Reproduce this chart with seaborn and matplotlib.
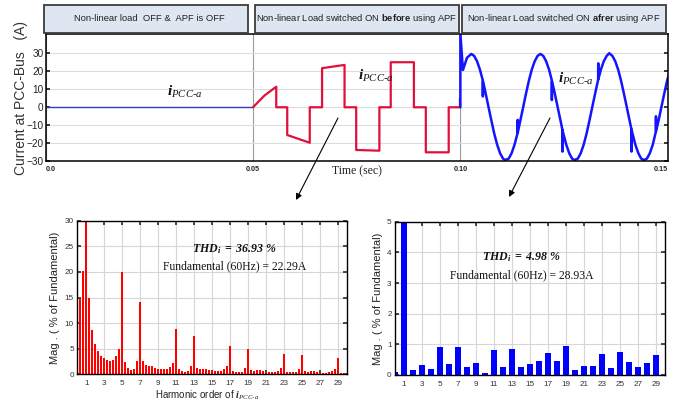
import numpy as np
import pandas as pd
import matplotlib
matplotlib.use("Agg")
import matplotlib.pyplot as plt
import matplotlib.transforms as mtransforms
from matplotlib import font_manager
from matplotlib.patches import Rectangle, FancyArrowPatch
import seaborn as sns

# ---------------- data ----------------
# interval 1: non-linear load off
t_off = [0.0, 0.05]
i_off = [0.0, 0.0]

# interval 2: non-linear load on, no APF (quasi-square current)
t_before = [0.05, 0.0528, 0.0556, 0.0556, 0.05825, 0.05825, 0.06368, 0.06368, 0.06665, 0.06665,
            0.07207, 0.07207, 0.07488, 0.07488, 0.08047, 0.08047, 0.08321, 0.08321, 0.0888, 0.0888,
            0.09167, 0.09167, 0.09719, 0.09719, 0.09990, 0.09990]
i_before = [0.0, 6.6, 11.4, 0.0, 0.0, -15.4, -19.7, 0.0, 0.0, 21.7,
            23.5, 0.0, 0.0, -23.7, -24.1, 0.0, 0.0, 25.0, 25.0, 0.0,
            0.0, -25.0, -25.0, 0.0, 0.0, 5.0]

# interval 3: non-linear load on, with APF (near-sinusoidal current)
t_after = [0.1000, 0.1000, 0.10062, 0.10160, 0.10264, 0.10333, 0.10403, 0.10472,
           0.10540, 0.10543, 0.10546, 0.10611, 0.10680, 0.10750, 0.10819, 0.10889,
           0.10958, 0.11028, 0.11080, 0.11166, 0.11236, 0.11305,
           0.11380, 0.11382, 0.11385, 0.11444, 0.11514, 0.11583, 0.11653, 0.11722,
           0.11792, 0.11861, 0.11930, 0.12000, 0.12069, 0.12139,
           0.12205, 0.12207, 0.12210, 0.12278, 0.12347, 0.12417,
           0.12460, 0.12462, 0.12465, 0.12486, 0.12556, 0.12625, 0.12694, 0.12750,
           0.12833, 0.12903, 0.12972, 0.13042, 0.13111, 0.13180, 0.13250,
           0.13322, 0.13325, 0.13328, 0.13389, 0.13458, 0.13528, 0.13590, 0.13666,
           0.13736, 0.13805, 0.13875, 0.13944, 0.14014, 0.14083,
           0.14124, 0.14126, 0.14129, 0.14153, 0.14222, 0.14292, 0.14361, 0.14425,
           0.14500, 0.14569, 0.14639, 0.14714, 0.14717, 0.14720, 0.14778, 0.14847,
           0.14917, 0.14986, 0.15020]
i_after = [0.0, 41.0, 20.7, 27.5, 29.6, 28.5, 25.5, 20.9,
           15.0, 6.0, 14.6, 7.6, 0.0, -7.6, -14.8, -20.9,
           -25.5, -28.5, -29.3, -28.5, -25.5, -20.9,
           -14.3, -7.0, -14.0, -7.6, 0.0, 7.6, 14.8, 20.9,
           25.5, 28.5, 29.6, 28.5, 25.5, 20.9,
           15.0, 4.0, 14.5, 7.6, 0.0, -7.6,
           -12.4, -24.6, -12.8, -14.8, -20.9, -25.5, -28.5, -29.3,
           -28.5, -25.5, -20.9, -14.8, -7.6, 0.0, 7.6,
           15.2, 24.4, 15.6, 20.9, 25.5, 28.5, 30.0, 28.5,
           25.5, 20.9, 14.8, 7.6, 0.0, -7.6,
           -12.0, -24.6, -12.4, -14.8, -20.9, -25.5, -28.5, -29.3,
           -28.5, -25.5, -20.9, -13.6, -5.0, -13.2, -7.6, 0.0,
           7.6, 14.8, 17.5]

time_ticks = [0.0, 0.05, 0.10, 0.15]
time_tick_labels = ["0.0", "0.05", "0.10", "0.15"]
headers = ["Non-linear load  OFF &  APF is OFF",
           r"Non-linear Load switched ON $\mathbf{before}$ using APF",
           r"Non-linear Load switched ON $\mathbf{afrer}$ using APF"]
wave_label = r"$\mathbfit{i}_{PCC\text{-}a}$"

# harmonic spectrum before APF (20 Hz resolution -> order step 1/3), % of fundamental
order_before = [k / 3 for k in range(90)]
mag_before = [6.7, 14.7, 20.2, 100.0, 15.0, 8.7, 6.0, 4.6, 3.6, 3.1,
              2.8, 2.6, 2.8, 3.5, 4.9, 20.0, 2.4, 1.3, 0.8, 1.1,
              2.6, 14.1, 2.6, 1.9, 1.7, 1.6, 1.3, 1.1, 1.1, 1.0,
              1.1, 1.5, 2.3, 8.9, 1.0, 0.7, 0.5, 0.7, 1.6, 7.5,
              1.3, 1.0, 1.0, 1.0, 0.8, 0.7, 0.7, 0.6, 0.7, 1.0,
              1.6, 5.6, 0.6, 0.5, 0.4, 0.5, 1.2, 5.0, 0.8, 0.7,
              0.8, 0.8, 0.6, 0.5, 0.4, 0.4, 0.4, 0.7, 1.3, 4.0,
              0.4, 0.4, 0.4, 0.4, 1.0, 3.7, 0.6, 0.5, 0.6, 0.6,
              0.4, 0.4, 0.3, 0.3, 0.4, 0.6, 1.1, 3.1, 0.3, 0.3]

# harmonic spectrum after APF, % of fundamental
order_after = list(range(30))
mag_after = [0.1, 100.0, 0.15, 0.32, 0.2, 0.92, 0.35, 0.92, 0.26, 0.4,
             0.06, 0.81, 0.25, 0.85, 0.25, 0.37, 0.45, 0.73, 0.45, 0.95,
             0.16, 0.3, 0.29, 0.7, 0.23, 0.74, 0.43, 0.26, 0.4, 0.64]

harm_ticks = list(range(1, 30, 2))
thd_before = r"$\mathbfit{THD_i\ =\ 36.93\ \%}$"
fund_before = "Fundamental (60Hz) = 22.29A"
thd_after = r"$\mathbfit{THD_i\ =\ 4.98\ \%}$"
fund_after = "Fundamental (60Hz) = 28.93A"

# ---------------- style ----------------
sns.set_theme(style="ticks")
names = {f.name for f in font_manager.fontManager.ttflist}
NARROW = "Liberation Sans Narrow" if "Liberation Sans Narrow" in names else "Liberation Sans"
k = 1.0 if NARROW == "Liberation Sans Narrow" else 0.84

plt.rcParams["font.family"] = [NARROW, "Liberation Sans", "DejaVu Sans"]
plt.rcParams["mathtext.fontset"] = "custom"
plt.rcParams["mathtext.rm"] = "Liberation Serif"
plt.rcParams["mathtext.it"] = "Liberation Serif:italic"
plt.rcParams["mathtext.bf"] = NARROW + ":bold"
plt.rcParams["mathtext.bfit"] = "Liberation Serif:italic:bold"
plt.rcParams["mathtext.sf"] = "Liberation Sans"

fig = plt.figure(figsize=(6.8, 4.04), dpi=100)
fig.patch.set_facecolor("white")

# ---------------- top: time-domain current ----------------
ax = fig.add_axes([0.0672, 0.6007, 0.9147, 0.3144])
sns.lineplot(x=t_off, y=i_off, ax=ax, color="#3a3ac0", lw=1.0, estimator=None, sort=False)
sns.lineplot(x=t_before, y=i_before, ax=ax, color="#e0103a", lw=1.6, estimator=None, sort=False)
sns.lineplot(x=t_after, y=i_after, ax=ax, color="#1414ff", lw=1.8, estimator=None, sort=False)
ax.set_xlim(0, 0.15)
ax.set_ylim(-30, 40.5)
ax.set_yticks(range(-30, 31, 10))
ax.set_xticks(time_ticks)
ax.set_xticklabels(time_tick_labels, fontsize=5.2, fontweight="bold", family="Liberation Sans")
xl = ax.get_xticklabels()
xl[0].set_ha("left")
xl[-1].set_ha("right")
ax.tick_params(axis="x", length=0, pad=3.5)
ax.tick_params(axis="y", direction="in", length=3, right=True, labelsize=8.6 * k, pad=1.5, colors="#222222")
ax.grid(axis="y", color="#dcdcdc", lw=0.8)
ax.grid(axis="x", color="#9a9a9a", lw=0.8)
ax.set_axisbelow(True)
for s in ax.spines.values():
    s.set_color("black")
    s.set_linewidth(1.1)
ax.set_xlabel("Time (sec)", family="Liberation Serif", fontsize=8.5, color="#222222")
ax.xaxis.set_label_coords(0.5, -0.028)
ax.set_ylabel("Current at PCC-Bus   (A)", family="Liberation Sans", fontsize=10, color="#333333")
ax.yaxis.set_label_coords(-0.029, 0.5)

blend = mtransforms.blended_transform_factory(ax.transData, ax.transAxes)
gap = 0.0004
for a, b, txt in zip(time_ticks[:-1], time_ticks[1:], headers):
    ax.add_patch(Rectangle((a + gap - (0.0008 if a == 0 else 0), 1.010), (b - a) - 2 * gap, 0.221,
                           transform=blend, clip_on=False, facecolor="#dde6f1",
                           edgecolor="#3c3c3c", lw=1.3, zorder=5))
    ax.text((a + b) / 2, 1.121, txt, transform=blend, ha="center", va="center",
            fontsize=8.0 * k, color="#222222", zorder=6, clip_on=False)

for tx, ty in [(0.0336, 8.5), (0.0797, 17.4), (0.1279, 15.7)]:
    ax.text(tx, ty, wave_label, fontsize=11, ha="center", va="center", color="#111111")

# ---------------- bottom panels ----------------
def spectrum(axh, x, y, color, width, ymax, yticks):
    sns.barplot(x=x, y=y, ax=axh, native_scale=True, orient="x", width=width,
                color=color, saturation=1, linewidth=0, errorbar=None)
    axh.set_xlim(0, 30)
    axh.set_ylim(0, ymax)
    axh.set_xticks(harm_ticks)
    axh.set_yticks(yticks)
    axh.tick_params(direction="in", length=3, top=True, right=True, labelsize=7.0 * k,
                    colors="#333333")
    axh.tick_params(axis="y", pad=2.4)
    axh.tick_params(axis="x", pad=4)
    axh.grid(True, color="#d6d6d6", lw=0.8)
    axh.set_axisbelow(True)
    for s in axh.spines.values():
        s.set_color("black")
        s.set_linewidth(1.0)
    axh.set_ylabel("Mag . ( % of Fundamental)", family="Liberation Sans", fontsize=8, color="#222222")
    axh.set_xlabel("")

axL = fig.add_axes([0.1137, 0.0735, 0.3962, 0.3802])
spectrum(axL, order_before, mag_before, "#ff0000", 0.66, 30, range(0, 31, 5))
axL.yaxis.set_label_coords(-0.064, 0.5)
axL.set_xlabel(r"Harmonic order of $\mathbfit{i}_{PCC\text{-}a}$", fontsize=8.4 * k, color="#222222")
axL.xaxis.set_label_coords(0.48, -0.09)
axL.text(17.5, 24.4, thd_before, fontsize=8.6, ha="center", va="center", color="#111111")
axL.text(17.5, 21.0, fund_before, family="Liberation Serif", fontsize=8.4, ha="center", va="center", color="#111111")

axR = fig.add_axes([0.5809, 0.0718, 0.3971, 0.3795])
spectrum(axR, order_after, mag_after, "#0000ff", 0.6, 5, range(0, 6))
axR.yaxis.set_label_coords(-0.044, 0.5)
axR.text(14.07, 3.83, thd_after, fontsize=8.6, ha="center", va="center", color="#111111")
axR.text(14.07, 3.26, fund_after, family="Liberation Serif", fontsize=8.4, ha="center", va="center", color="#111111")

# ---------------- arrows ----------------
for (x0, y0), (x1, y1) in [((338, 118), (296, 200)), ((550, 118), (509, 197))]:
    fig.add_artist(FancyArrowPatch((x0 / 680, 1 - y0 / 404), (x1 / 680, 1 - y1 / 404),
                                   transform=fig.transFigure, arrowstyle="-|>", mutation_scale=9,
                                   lw=0.8, color="black", shrinkA=0, shrinkB=0))

fig.savefig("out.png", dpi=100)
